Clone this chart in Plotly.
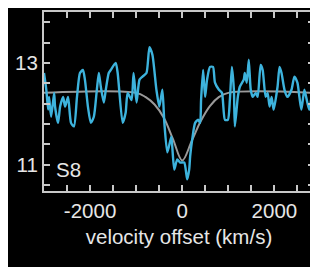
import plotly.graph_objects as go

# observed spectrum (velocity offset km/s, flux)
vel = [-3000, -2950, -2910, -2890, -2845, -2780, -2760, -2695, -2650, -2585,
       -2543, -2478, -2414, -2349, -2284, -2220, -2155, -2112, -2047, -1983,
       -1918, -1853, -1810, -1767, -1702, -1659, -1595, -1552, -1444, -1401,
       -1293, -1228, -1185, -1099, -1056, -991, -927, -862, -776, -711,
       -647, -560, -496, -431, -388, -323, -237, -216, -172, -108,
       -43, 43, 108, 151, 172, 216, 280, 345, 388, 409,
       453, 496, 539, 603, 668, 711, 797, 862, 927, 991,
       1034, 1078, 1121, 1142, 1207, 1250, 1336, 1358, 1401, 1444,
       1487, 1530, 1595, 1638, 1702, 1746, 1810, 1853, 1896, 1940,
       1983, 2069, 2112, 2155, 2220, 2284, 2371, 2435, 2500, 2543,
       2586, 2651, 2715, 2758, 2823, 2888]
flux = [12.80, 12.47, 12.08, 12.33, 11.94, 12.41, 12.14, 11.82, 12.14, 12.33,
        12.14, 12.33, 11.82, 11.75, 12.33, 12.80, 12.86, 12.67, 12.14, 11.82,
        11.94, 12.47, 12.80, 12.53, 12.22, 12.47, 12.80, 12.86, 13.00, 12.80,
        11.82, 12.02, 12.41, 12.27, 12.80, 12.22, 12.67, 12.73, 12.80, 13.31,
        13.16, 12.47, 12.14, 12.47, 11.82, 11.24, 11.55, 11.35, 10.90, 11.10,
        11.04, 11.04, 10.71, 10.90, 11.16, 11.49, 11.82, 11.88, 11.82, 12.27,
        12.86, 12.33, 12.67, 12.92, 12.92, 12.61, 12.47, 12.41, 11.88, 11.88,
        12.27, 12.92, 12.47, 11.75, 12.33, 12.53, 12.67, 12.80, 12.61, 13.06,
        12.47, 12.33, 12.41, 12.33, 12.96, 12.86, 12.33, 12.41, 12.14, 12.33,
        12.08, 12.53, 12.92, 12.80, 12.47, 12.33, 12.47, 12.73, 12.61, 12.33,
        12.08, 12.47, 12.22, 12.08, 12.41, 12.53]

# model fit
model_vel = [-3000, -1000, -800, -600, -400, -200, 0, 200, 400, 600, 800, 1000, 2900]
model_flux = [12.41, 12.41, 12.33, 12.18, 11.92, 11.50, 11.08, 11.45, 11.85, 12.15, 12.33, 12.41, 12.41]

x_ticks = [-2000, 0, 2000]
x_ticklabels = ["-2000", "0", "2000"]
y_ticks = [11, 13]
y_ticklabels = ["11", "13"]
label = "S8"

axis_col = "#c8c8c8"
text_col = "#e6e6e6"
font = dict(family="Liberation Sans, Arial, sans-serif", size=20.5, color=text_col)

fig = go.Figure()
fig.add_trace(go.Scatter(x=model_vel, y=model_flux, mode="lines",
                         line=dict(color="#9a9a9a", width=2, shape="spline"),
                         hoverinfo="skip"))
fig.add_trace(go.Scatter(x=vel, y=flux, mode="lines",
                         line=dict(color="#3db3dd", width=2.4, shape="spline", smoothing=0.6)))

fig.add_annotation(x=-2460, y=10.9, text=label, showarrow=False,
                   font=font, xanchor="center", yanchor="middle")

fig.update_layout(
    width=310, height=259,
    margin=dict(l=36, r=4, t=4, b=76),
    paper_bgcolor="black", plot_bgcolor="black",
    showlegend=False, font=font,
)
fig.update_xaxes(
    range=[-3000, 2860], tickvals=x_ticks, ticktext=x_ticklabels,
    ticks="inside", ticklen=6, automargin=False,
    tickcolor=axis_col, tickwidth=1.5, showline=True, linecolor=axis_col,
    linewidth=2, mirror="ticks", showgrid=False, zeroline=False,
    minor=dict(dtick=500, tick0=0, ticks="inside", ticklen=6, tickcolor=axis_col, tickwidth=1.5, showgrid=False),
    title=dict(text="velocity offset (km/s)", font=font, standoff=9),
    tickfont=font,
)
fig.update_yaxes(
    range=[10.48, 14.0], tickvals=y_ticks, ticktext=y_ticklabels,
    ticks="inside", ticklen=6, automargin=False,
    tickcolor=axis_col, tickwidth=1.5, showline=True, linecolor=axis_col,
    linewidth=2, mirror="ticks", showgrid=False, zeroline=False,
    minor=dict(dtick=0.4, tick0=11, ticks="inside", ticklen=6, tickcolor=axis_col, tickwidth=1.5, showgrid=False),
    tickfont=font,
)

fig.write_html("out.html")
